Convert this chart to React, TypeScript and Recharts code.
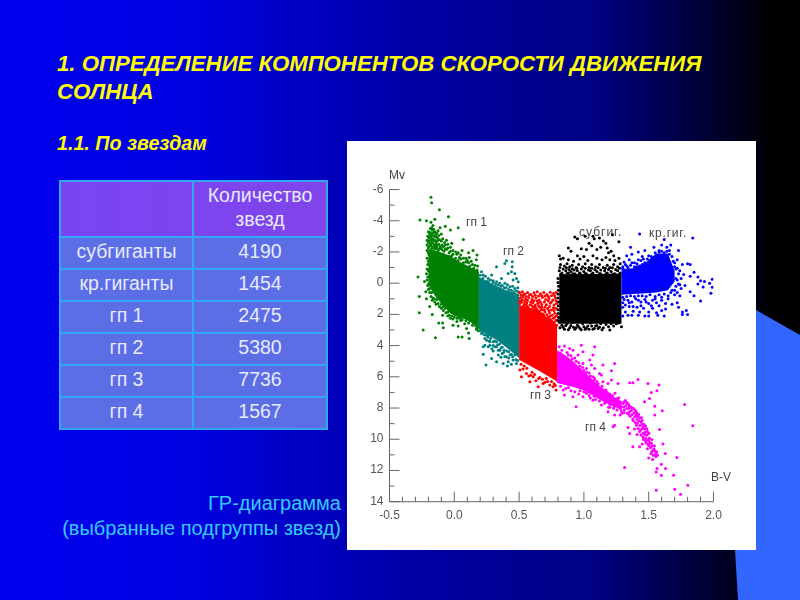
import { ComposedChart, Area, Scatter, XAxis, YAxis } from "recharts";

// B-V / Mv values
const bvTicks = [-0.5, -0.4, -0.3, -0.2, -0.1, 0, 0.1, 0.2, 0.3, 0.4, 0.5, 0.6, 0.7, 0.8, 0.9, 1, 1.1, 1.2, 1.3, 1.4, 1.5, 1.6, 1.7, 1.8, 1.9, 2];
const mvTicks = [-6, -5, -4, -3, -2, -1, 0, 1, 2, 3, 4, 5, 6, 7, 8, 9, 10, 11, 12, 13, 14];

const tableHead = "Количество звезд";
const groupNames = ["субгиганты", "кр.гиганты", "гп 1", "гп 2", "гп 3", "гп 4"];
const groupCounts = [4190, 1454, 2475, 5380, 7736, 1567];

// solid cores of each group: bv, upper edge, lower edge
const gp1Bv = [-0.2, -0.15, -0.11, -0.03, 0.02, 0.095, 0.19];
const gp1Top = [-1.9, -2.1, -2.0, -1.75, -1.45, -1.15, -0.75];
const gp1Bot = [0.1, 0.8, 1.2, 1.95, 2.15, 2.35, 2.85];
const gp2Bv = [0.19, 0.26, 0.33, 0.4, 0.5];
const gp2Top = [-0.4, -0.1, 0.2, 0.45, 0.7];
const gp2Bot = [2.95, 3.35, 3.65, 4.1, 4.8];
const gp3Bv = [0.5, 0.65, 0.793];
const gp3Top = [1.4, 1.7, 2.8];
const gp3Bot = [4.9, 5.6, 6.3];
const subBv = [0.81, 1.29];
const subTop = [-0.55, -0.6];
const subBot = [2.6, 2.6];
const gntBv = [1.29, 1.38, 1.48, 1.558, 1.648, 1.7];
const gntTop = [-0.9, -0.95, -1.35, -1.9, -1.9, -0.8];
const gntBot = [0.75, 0.7, 0.65, 0.6, 0.45, -0.1];
const gp4Bv = [0.793, 0.87, 0.916, 0.993, 1.11, 1.2, 1.29];
const gp4Top = [4.3, 4.7, 5.0, 5.6, 6.5, 7.1, 7.65];
const gp4Bot = [6.4, 6.55, 6.65, 6.85, 7.4, 7.8, 8.1];

// single stars outside the cores: [bv, mv]
const gp1Stars = [
  [-0.18, -5.5], [-0.175, -5.15], [-0.115, -4.7], [-0.265, -4.05], [-0.215, -4], [-0.15, -4.1], [-0.045, -4.25], [-0.18, -3.9], [-0.165, -3.7], [-0.11, -3.55], [-0.07, -3.65], [-0.03, -3.4], [0.03, -3.55], [0.07, -2.8],
  [-0.28, -0.4], [-0.27, 0.85], [-0.27, 1.9], [-0.24, 3], [-0.19, 1.5], [-0.17, 2], [-0.145, 3.5], [-0.12, 2.55], [-0.09, 2.55], [-0.085, 2.85], [0.03, 3.45], [0.06, 3.45], [0.095, 2.9], [0.115, 3.55], [0.11, 3.2], [0.145, -2.1], [0.11, -1.95], [0.175, -1.8], [0.115, -1.65], [0.17, -1.5],
  [-0.185, -3.5], [-0.17, -3.4], [-0.19, -3.2], [-0.175, -3.05], [-0.16, -3.25], [-0.145, -3.1], [-0.195, -2.9], [-0.18, -2.8], [-0.165, -2.85], [-0.15, -2.75], [-0.13, -2.9], [-0.2, -2.6], [-0.185, -2.5], [-0.17, -2.55], [-0.155, -2.45], [-0.14, -2.6], [-0.12, -2.5], [-0.1, -2.7], [-0.2, -2.25], [-0.19, -2.1], [-0.175, -2.2], [-0.16, -2.05], [-0.145, -2.2], [-0.125, -2.1], [-0.105, -2.25], [-0.085, -2.35], [-0.08, -2.05], [-0.06, -2.15], [-0.04, -1.95], [-0.195, -1.8], [-0.18, -1.65], [-0.165, -1.85], [-0.2, -1.4], [-0.19, -1.25], [-0.04, -1.7], [-0.02, -1.75], [0.01, -1.6], [0.03, -1.45], [0.05, -1.55], [0.07, -1.3], [0.09, -1.35], [0.12, -1.1], [0.15, -0.95], [0.175, -0.85],
  [-0.2, -0.8], [-0.205, -0.4], [-0.2, 0.05], [-0.19, 0.35], [-0.175, 0.6], [-0.165, 0.95], [-0.15, 1.2], [-0.135, 1.05], [-0.115, 1.5], [-0.1, 1.35], [-0.085, 1.75], [-0.07, 1.6], [-0.05, 2.1], [-0.03, 2.25], [-0.01, 2.3], [0.02, 2.45], [0.05, 2.4], [0.08, 2.6], [0.11, 2.55], [0.14, 2.7], [0.17, 2.95], [0.185, 3.05], [-0.22, 0.55], [-0.215, 1.0], [-0.09, 2.05], [-0.01, 2.7], [0.03, 2.75], [-0.23, -0.1],
  [-0.2, -3.3], [-0.185, -3.25], [-0.175, -3.55], [-0.16, -3.45], [-0.15, -3.3], [-0.135, -3.2], [-0.125, -3.35], [-0.205, -3.0], [-0.19, -3.05], [-0.18, -2.95], [-0.17, -3.15], [-0.155, -3.0], [-0.14, -2.95], [-0.12, -3.05], [-0.1, -3.15], [-0.21, -2.75], [-0.195, -2.7], [-0.175, -2.65], [-0.16, -2.7], [-0.145, -2.5], [-0.13, -2.72], [-0.115, -2.78], [-0.09, -2.85], [-0.075, -2.6], [-0.06, -2.75], [-0.21, -2.45], [-0.195, -2.35], [-0.18, -2.4], [-0.165, -2.3], [-0.15, -2.35], [-0.135, -2.4], [-0.11, -2.35], [-0.095, -2.45], [-0.07, -2.45], [-0.05, -2.5], [-0.03, -2.3], [-0.02, -2.55], [-0.21, -2.1], [-0.2, -1.95], [-0.185, -1.95], [-0.17, -2.05], [-0.155, -2.25], [-0.135, -2.25], [-0.115, -2.2], [-0.095, -2.15], [-0.07, -2.2], [-0.05, -2.25], [-0.03, -2.05], [-0.01, -2.1], [0.01, -2], [0.03, -1.95], [0.05, -1.8], [0.06, -2.1], [0.09, -1.6], [0.1, -1.45], [0.13, -1.4], [0.14, -1.2], [0.16, -1.15], [0.18, -1.1], [0.02, -1.85], [-0.01, -1.85], [0.04, -1.65], [0.07, -1.6], [0.11, -1.3],
  [-0.21, -1.6], [-0.205, -1.2], [-0.21, -0.9], [-0.215, -0.6], [-0.21, -0.2], [-0.205, 0.15], [-0.2, 0.4], [-0.19, 0.6], [-0.18, 0.85], [-0.17, 1.1], [-0.155, 1.0], [-0.14, 1.35], [-0.125, 1.3], [-0.1, 1.6], [-0.085, 1.5], [-0.065, 1.9], [-0.05, 1.85], [-0.04, 2.05], [-0.02, 2.1], [0, 2.15], [0.02, 2.25], [0.04, 2.25], [0.06, 2.35], [0.09, 2.4], [0.12, 2.4], [0.15, 2.55], [0.165, 2.75], [0.18, 2.85],
];
const gp2Stars = [
  [0.21, -0.73], [0.223, -0.52], [0.262, -0.3], [0.288, -0.52], [0.326, -1.05], [0.39, -1.26], [0.403, -1.44], [0.447, -1.37], [0.447, -1.05], [0.441, -0.73], [0.416, -0.62], [0.467, -0.62], [0.48, -0.3], [0.454, -0.2], [0.493, -0.09], [0.364, -0.3], [0.326, -0.09], [0.39, 0], [0.339, 0.12], [0.429, 0.23], [0.467, 0.34], [0.25, -0.09], [0.3, -0.05], [0.36, 0.2], [0.4, 0.3], [0.44, 0.45], [0.48, 0.5],
  [0.223, 3.12], [0.249, 3.33], [0.21, 3.22], [0.236, 3.54], [0.275, 3.76], [0.326, 3.76], [0.313, 4.08], [0.262, 4.08], [0.223, 4.08], [0.223, 4.55], [0.244, 5.25], [0.288, 4.82], [0.326, 5.04], [0.377, 5.14], [0.416, 5.04], [0.352, 4.29], [0.403, 4.71], [0.454, 4.93], [0.467, 4.61], [0.43, 4.6], [0.326, 4.07], [0.275, 3.97], [0.236, 3.97], [0.3, 4.35], [0.34, 4.6], [0.38, 4.45], [0.41, 5.3], [0.44, 5.2], [0.36, 4.75], [0.29, 4.2], [0.25, 3.65], [0.3, 3.75], [0.37, 4.1], [0.48, 5.15],
  [0.2, -0.5], [0.22, -0.3], [0.24, -0.45], [0.26, -0.1], [0.28, -0.2], [0.3, -0.15], [0.32, 0.05], [0.35, 0.0], [0.37, 0.15], [0.385, 0.3], [0.41, 0.1], [0.42, 0.4], [0.45, 0.2], [0.46, 0.55], [0.49, 0.3], [0.495, 0.55], [0.2, 3.05], [0.215, 3.0], [0.23, 3.3], [0.26, 3.45], [0.28, 3.55], [0.31, 3.7], [0.335, 3.95], [0.35, 3.9], [0.36, 4.15], [0.385, 4.3], [0.405, 4.35], [0.42, 4.4], [0.44, 4.55], [0.45, 4.72], [0.475, 4.9], [0.49, 4.95], [0.3, 4.0], [0.27, 3.7], [0.34, 4.3], [0.37, 4.5], [0.39, 4.7], [0.42, 4.8],
];
const gp3Stars = [
  [0.506, 5.57], [0.518, 5.99], [0.557, 5.78], [0.583, 6.32], [0.609, 5.99], [0.647, 6.64], [0.685, 6.42], [0.737, 6.53], [0.762, 6.64], [0.785, 6.85], [0.71, 6.1], [0.66, 6.05], [0.6, 5.7], [0.54, 5.3], [0.575, 5.95], [0.63, 6.25], [0.75, 6.3], [0.77, 6.45], [0.515, 5.2], [0.53, 5.5], [0.56, 5.45], [0.59, 5.9], [0.62, 5.85], [0.65, 6.1], [0.68, 6.15], [0.7, 6.35], [0.72, 6.3], [0.78, 6.55],
  [0.505, 0.62], [0.525, 0.55], [0.545, 0.7], [0.565, 0.6], [0.59, 0.72], [0.615, 0.62], [0.64, 0.55], [0.665, 0.68], [0.69, 0.6], [0.715, 0.72], [0.74, 0.58], [0.765, 0.66], [0.785, 0.6],
  [0.51, 0.95], [0.53, 0.88], [0.55, 1.02], [0.575, 0.92], [0.6, 1.05], [0.63, 0.95], [0.655, 1.08], [0.68, 0.92], [0.705, 1.05], [0.73, 0.98], [0.76, 1.08], [0.78, 0.95],
  [0.505, 1.3], [0.52, 1.22], [0.54, 1.35], [0.56, 1.25], [0.585, 1.38], [0.605, 1.26], [0.625, 1.4], [0.645, 1.28], [0.675, 1.36], [0.71, 1.38], [0.74, 1.28], [0.77, 1.4], [0.788, 1.3],
  [0.52, 1.55], [0.545, 1.62], [0.565, 1.5], [0.59, 1.68], [0.61, 1.55], [0.635, 1.65], [0.66, 1.55], [0.685, 1.7], [0.72, 1.62], [0.75, 1.72], [0.785, 1.6],
  [0.66, 1.82], [0.68, 1.98], [0.7, 1.85], [0.715, 2.02], [0.735, 1.9], [0.755, 2.05], [0.775, 1.92], [0.79, 2.08],
  [0.69, 2.2], [0.71, 2.3], [0.725, 2.18], [0.745, 2.35], [0.765, 2.25], [0.785, 2.38], [0.73, 2.55], [0.75, 2.62], [0.77, 2.5], [0.79, 2.7], [0.705, 2.55],
  [0.515, 0.78], [0.535, 0.72], [0.555, 0.85], [0.58, 0.75], [0.605, 0.85], [0.625, 0.78], [0.65, 0.82], [0.675, 0.8], [0.7, 0.82], [0.725, 0.85], [0.75, 0.8], [0.775, 0.8],
  [0.505, 1.12], [0.525, 1.08], [0.545, 1.18], [0.565, 1.1], [0.59, 1.2], [0.615, 1.12], [0.64, 1.15], [0.665, 1.22], [0.695, 1.2], [0.725, 1.15], [0.75, 1.2], [0.785, 1.12],
  [0.535, 1.48], [0.555, 1.4], [0.575, 1.62], [0.6, 1.45], [0.625, 1.55], [0.65, 1.45], [0.675, 1.55], [0.7, 1.52], [0.735, 1.5], [0.765, 1.58],
  [0.67, 1.68], [0.695, 1.72], [0.73, 1.75], [0.77, 1.75], [0.69, 2.05], [0.74, 2.1], [0.78, 2.15], [0.7, 2.42], [0.755, 2.45], [0.775, 2.65], [0.735, 2.3],
];
const subStars = [
  [1.01, -3.0], [0.93, -2.95], [0.95, -2.85], [1.07, -3.0], [1.08, -2.85], [1.12, -2.9], [1.15, -2.7], [1.17, -2.55], [1.27, -2.65], [1.22, -3.1], [0.88, -2.25], [0.9, -2.05], [0.95, -1.75], [0.98, -2.2], [1.02, -2.15], [1.04, -2.55], [1.06, -2.4], [1.1, -2.15], [1.13, -2.3], [1.18, -2.25], [1.19, -1.95], [1.21, -2.05], [1.23, -1.75],
  [0.81, -1.75], [0.82, -1.55], [0.84, -1.6], [0.88, -1.5], [0.92, -1.4], [0.97, -1.55], [1, -1.7], [1.03, -1.45], [1.07, -1.75], [1.1, -1.6], [1.14, -1.5], [1.17, -1.65], [1.2, -1.5], [1.24, -1.45], [1.27, -1.6],
  [0.82, -1.2], [0.85, -1.1], [0.87, -1.25], [0.89, -1.05], [0.91, -1.15], [0.94, -1.0], [0.96, -1.2], [0.99, -1.05], [1.01, -1.25], [1.04, -1.0], [1.06, -1.2], [1.09, -1.05], [1.12, -1.2], [1.15, -1.0], [1.18, -1.15], [1.2, -1.0], [1.23, -1.2], [1.26, -1.05], [1.28, -1.25],
  [0.81, -0.8], [0.83, -0.65], [0.86, -0.8], [0.88, -0.65], [0.9, -0.75], [0.93, -0.6], [0.95, -0.8], [0.97, -0.65], [1.0, -0.75], [1.02, -0.6], [1.05, -0.8], [1.07, -0.65], [1.1, -0.75], [1.13, -0.6], [1.16, -0.8], [1.18, -0.65], [1.21, -0.75], [1.24, -0.6], [1.26, -0.8], [1.28, -0.65],
  [0.815, -1.0], [0.84, -0.9], [0.865, -0.98], [0.885, -0.88], [0.91, -0.92], [0.925, -0.85], [0.945, -0.95], [0.98, -0.9], [1.01, -0.95], [1.035, -0.85], [1.06, -0.95], [1.085, -0.88], [1.11, -0.98], [1.13, -0.85], [1.165, -0.95], [1.19, -0.88], [1.22, -0.98], [1.245, -0.88], [1.275, -0.95],
  [0.82, -0.55], [0.845, -0.5], [0.87, -0.62], [0.895, -0.52], [0.915, -0.6], [0.94, -0.5], [0.965, -0.62], [0.985, -0.52], [1.01, -0.6], [1.04, -0.5], [1.06, -0.58], [1.09, -0.5], [1.12, -0.62], [1.145, -0.5], [1.17, -0.6], [1.2, -0.52], [1.225, -0.58], [1.25, -0.5], [1.275, -0.58],
  [0.8, -0.3], [0.805, 0.2], [0.8, 0.7], [0.805, 1.2], [0.8, 1.7], [0.805, 2.2], [0.8, -0.05], [0.803, 0.45], [0.8, 0.95], [0.803, 1.45], [0.8, 1.95], [0.8, 2.4],
  [0.81, 2.5], [0.83, 2.7], [0.85, 2.95], [0.87, 2.6], [0.89, 2.85], [0.91, 2.5], [0.93, 2.95], [0.95, 2.7], [0.97, 2.9], [0.99, 2.6], [1.01, 2.95], [1.03, 2.75], [1.05, 2.55], [1.07, 2.95], [1.09, 2.75], [1.11, 2.9], [1.13, 2.6], [1.15, 2.85], [1.17, 2.65], [1.19, 2.8], [1.21, 2.6], [1.2, 3.0], [1.23, 2.75], [1.25, 2.6], [1.27, 2.55], [1.29, 2.8],
  [0.815, 2.85], [0.84, 2.82], [0.86, 2.72], [0.88, 2.98], [0.9, 2.72], [0.92, 2.82], [0.94, 2.85], [0.96, 2.8], [0.98, 2.98], [1.0, 2.8], [1.02, 2.88], [1.04, 2.95], [1.06, 2.75], [1.08, 2.9], [1.1, 2.72], [1.12, 2.82], [1.14, 2.98],
];
const gntStars = [
  [1.43, -3.15], [1.54, -2.3], [1.62, -2.8], [1.64, -2.3], [1.66, -1.85], [1.84, -2.9], [1.36, -2.3], [1.37, -1.85], [1.42, -2.0], [1.47, -2.1], [1.5, -1.75], [1.55, -1.95], [1.58, -2.1], [1.6, -2.45], [1.67, -2.45], [1.73, -2.1], [1.33, -1.75], [1.31, -1.35], [1.35, -1.5], [1.39, -1.3], [1.42, -1.5], [1.45, -1.7], [1.3, -1.05], [1.33, -1.1], [1.36, -1.15], [1.41, -1.05], [1.45, -1.2], [1.46, -1.55],
  [1.7, -1.3], [1.72, -1.5], [1.76, -1.2], [1.8, -1.25], [1.82, -1.2], [1.71, -0.9], [1.74, -0.8], [1.77, -0.55], [1.82, -0.45], [1.85, -0.7], [1.88, -0.4], [1.9, -0.15], [1.93, -0.1], [1.97, 0], [1.88, 0.05], [1.78, 0.15], [1.73, 0.05], [1.71, -0.3], [1.75, 0.35], [1.82, 0.55], [1.85, 0.8], [1.92, 0.25], [1.99, -0.25], [1.99, 0.27], [1.98, 0.65], [1.9, 1.15],
  [1.3, 0.9], [1.33, 0.85], [1.31, 1.05], [1.36, 0.8], [1.39, 0.85], [1.42, 0.8], [1.45, 0.8], [1.48, 0.85], [1.51, 0.75], [1.55, 0.85], [1.58, 0.75], [1.62, 0.7], [1.65, 0.8], [1.68, 0.45], [1.7, 0.75], [1.3, 1.25], [1.34, 1.1], [1.37, 1.2], [1.4, 1.0], [1.44, 1.2], [1.47, 1.05], [1.5, 1.3], [1.53, 1.1], [1.56, 1.25], [1.6, 1.1], [1.63, 1.3], [1.68, 1.35], [1.72, 1.25], [1.3, 1.55], [1.32, 1.85], [1.35, 1.5], [1.38, 1.8], [1.41, 1.55], [1.43, 1.85], [1.46, 1.6], [1.5, 1.85], [1.53, 1.6], [1.56, 1.9], [1.6, 1.75], [1.63, 1.65], [1.73, 1.55], [1.76, 1.85], [1.79, 1.75], [1.76, 2.0], [1.8, 2.0], [1.3, 2.1], [1.34, 2.05], [1.37, 2.05], [1.42, 2.05], [1.47, 2.1], [1.5, 2.1], [1.57, 2.05], [1.62, 2.1],
  [1.3, -0.95], [1.32, -1.2], [1.34, -1.0], [1.37, -1.3], [1.39, -1.05], [1.41, -1.25], [1.43, -1.1], [1.44, -1.45], [1.47, -1.3], [1.49, -1.55], [1.51, -1.35], [1.52, -1.7], [1.54, -1.6], [1.56, -1.75], [1.58, -2.0], [1.6, -2.05], [1.62, -1.95], [1.64, -2.05], [1.66, -2.1], [1.68, -1.7], [1.69, -1.4], [1.7, -1.05], [1.72, -0.95], [1.73, -0.6], [1.75, -0.3], [1.72, -0.2], [1.74, 0.1], [1.71, 0.2], [1.7, 0.45], [1.72, 0.6], [1.74, 0.8], [1.67, 0.6], [1.65, 1.0], [1.6, 0.9], [1.55, 1.0], [1.48, 1.2], [1.42, 1.1], [1.35, 1.25], [1.32, 1.4], [1.38, 1.5], [1.44, 1.45], [1.52, 1.45], [1.58, 1.45],
];
const gp4Stars = [
  [0.81, 4.07], [0.85, 4.03], [0.89, 4.18], [0.916, 4.29], [0.98, 3.97], [0.993, 4.4], [0.955, 4.61], [1.083, 4.07], [1.07, 4.61], [1.045, 4.93], [1.058, 5.25], [0.993, 5.14], [1.02, 5.46], [1.083, 5.46], [1.12, 5.78], [1.147, 5.25], [1.237, 5.14], [1.212, 5.61], [1.135, 5.89], [1.083, 6.1], [1.147, 6.32], [1.186, 6.42], [1.212, 6.21], [1.263, 6.42], [1.353, 6.38], [1.378, 6.38], [1.417, 6.17], [1.494, 6.42], [1.579, 6.53], [1.564, 6.9], [1.52, 7.0], [1.507, 7.39], [1.468, 7.6], [1.546, 7.88], [1.605, 8.18], [1.546, 8.45], [1.584, 9.37], [1.61, 10.31], [1.628, 10.91], [1.597, 11.6], [1.63, 11.87], [1.717, 11.17], [1.777, 7.77], [1.84, 9.14], [1.314, 11.81], [1.558, 12.09], [1.564, 11.87], [1.597, 12.3], [1.558, 13.26], [1.7, 13.2], [1.746, 13.52], [1.802, 12.94], [1.692, 12.3],
  [0.94, 7.92], [0.916, 7.28], [0.85, 7.17], [0.993, 7.28], [1.07, 7.5], [1.135, 7.8], [1.186, 8.24], [1.237, 8.45], [0.82, 6.6], [0.84, 6.85], [0.88, 6.7], [0.93, 6.95], [0.97, 6.9], [1.02, 7.05], [1.05, 6.9], [1.09, 7.45], [0.82, 4.5], [0.85, 4.7], [0.88, 4.6], [0.91, 4.85], [0.94, 5.0], [0.97, 5.3], [1.0, 5.6], [1.04, 5.75], [1.07, 6.0], [1.1, 6.3], [1.14, 6.6], [1.17, 6.85], [1.2, 7.1], [1.24, 7.05],
  [0.83, 4.3], [0.87, 4.45], [0.9, 4.65], [0.93, 4.8], [0.96, 5.1], [0.99, 5.4], [1.02, 5.7], [1.05, 5.95], [1.08, 6.2], [1.11, 6.45], [1.15, 6.85], [1.18, 7.0], [1.22, 7.2], [1.27, 7.35], [1.0, 6.95], [1.04, 7.2], [1.08, 7.25], [1.12, 7.55], [1.16, 7.7], [1.2, 7.95], [1.05, 7.35], [0.96, 7.1], [0.9, 6.9], [0.86, 6.75],
  [1.2, 7.75], [1.19, 7.95], [1.22, 7.3], [1.225, 7.55], [1.215, 7.72], [1.23, 8.02], [1.24, 7.42], [1.245, 7.63], [1.25, 7.86], [1.255, 8.12], [1.265, 7.52], [1.27, 7.77], [1.275, 7.98], [1.283, 7.61], [1.288, 7.92], [1.29, 8.22], [1.295, 8.34], [1.302, 7.71], [1.307, 7.94], [1.312, 8.13], [1.32, 7.52], [1.325, 7.83], [1.33, 8.03], [1.334, 8.31], [1.342, 7.72], [1.347, 8.01], [1.352, 8.23], [1.357, 8.52], [1.362, 7.93], [1.367, 8.15], [1.372, 8.42], [1.377, 8.71], [1.384, 8.03], [1.388, 8.31], [1.391, 8.56], [1.396, 8.92], [1.402, 8.22], [1.404, 8.45], [1.409, 8.72], [1.414, 8.96], [1.418, 9.31], [1.423, 8.42], [1.426, 8.82], [1.432, 9.12], [1.436, 9.41], [1.44, 9.72], [1.445, 8.62], [1.449, 9.02], [1.452, 9.33], [1.457, 9.62], [1.46, 10.02], [1.465, 9.05], [1.47, 9.32], [1.472, 9.53], [1.476, 9.92], [1.48, 10.22], [1.485, 9.33], [1.488, 9.72], [1.492, 10.03], [1.496, 10.32], [1.502, 9.62], [1.505, 9.93], [1.51, 10.22], [1.514, 10.52], [1.518, 10.92], [1.524, 10.02], [1.528, 10.42], [1.532, 10.72], [1.536, 11.02], [1.544, 10.42], [1.548, 10.73], [1.553, 10.93], [1.562, 10.82], [1.568, 11.02],
  [1.34, 9.25], [1.353, 9.63], [1.378, 10.48], [1.43, 10.48], [1.237, 9.1], [1.225, 9.2], [1.39, 9.35], [1.41, 9.7], [1.45, 10.3], [1.49, 10.6], [1.5, 11.2], [1.53, 11.3],
  [1.21, 7.5], [1.235, 7.9], [1.26, 7.35], [1.285, 8.05], [1.31, 7.6], [1.33, 7.65], [1.35, 7.85], [1.37, 8.0], [1.395, 8.15], [1.415, 8.55], [1.43, 8.6], [1.44, 8.9], [1.455, 9.2], [1.47, 9.7], [1.49, 9.5], [1.5, 10.1], [1.52, 10.25], [1.54, 10.6], [1.555, 11.1], [1.345, 8.4], [1.38, 8.8], [1.405, 9.1], [1.43, 9.5], [1.455, 9.85], [1.475, 10.1], [1.5, 10.4], [1.525, 10.8], [1.41, 8.35], [1.45, 8.8], [1.475, 9.15], [1.31, 8.3], [1.28, 8.45],
];

const toBand = (bv: number[], top: number[], bot: number[]) => bv.map((x, i) => ({ x, band: [top[i], bot[i]] }));
const toStars = (list: number[][]) => list.map(([x, y]) => ({ x, y }));

const dot = (color: string) => (p: any) => <circle cx={p.cx} cy={p.cy} r={1.5} fill={color} />;

const isMajorBv = (v: number) => Math.abs(v * 2 - Math.round(v * 2)) < 1e-6;

function BvTick({ x, y, payload }: any) {
  const major = isMajorBv(payload.value);
  return (
    <g>
      <line x1={x} x2={x} y1={y} y2={y - (major ? 10 : 5)} stroke="#666" />
      {major && (
        <text x={x} y={y + 17} textAnchor="middle" fontSize={12} fill="#555" fontFamily="Liberation Sans">
          {payload.value.toFixed(1)}
        </text>
      )}
    </g>
  );
}

function MvTick({ x, y, payload }: any) {
  const major = payload.value % 2 === 0;
  return (
    <g>
      <line x1={x} x2={x + (major ? 10 : 5)} y1={y} y2={y} stroke="#666" />
      {major && (
        <text x={x - 6} y={y + 3} textAnchor="end" fontSize={12} fill="#555" fontFamily="Liberation Sans">
          {payload.value}
        </text>
      )}
    </g>
  );
}

const noteStyle = { fontSize: 12, fill: "#444", fontFamily: "Liberation Sans" };

function HrChart() {
  return (
    <ComposedChart width={409} height={409} margin={{ top: 48.5, right: 42.5, bottom: 18, left: 0 }}>
      <XAxis dataKey="x" type="number" domain={[-0.5, 2]} ticks={bvTicks} interval={0} height={30.3} tickSize={0} tickMargin={0} tick={BvTick} axisLine={{ stroke: "#666" }} tickLine={false} allowDataOverflow />
      <YAxis dataKey="y" type="number" domain={[-6, 14]} ticks={mvTicks} interval={0} width={42.5} reversed tickSize={0} tickMargin={0} tick={MvTick} axisLine={{ stroke: "#666" }} tickLine={false} allowDataOverflow />
      <Area data={toBand(gp1Bv, gp1Top, gp1Bot)} dataKey="band" type="linear" stroke="none" fill="#008000" fillOpacity={1} dot={false} activeDot={false} isAnimationActive={false} />
      <Scatter data={toStars(gp1Stars)} shape={dot("#008000")} isAnimationActive={false} />
      <Area data={toBand(gp2Bv, gp2Top, gp2Bot)} dataKey="band" type="linear" stroke="none" fill="#008080" fillOpacity={1} dot={false} activeDot={false} isAnimationActive={false} />
      <Scatter data={toStars(gp2Stars)} shape={dot("#008080")} isAnimationActive={false} />
      <Area data={toBand(gp4Bv, gp4Top, gp4Bot)} dataKey="band" type="linear" stroke="none" fill="#ff00ff" fillOpacity={1} dot={false} activeDot={false} isAnimationActive={false} />
      <Scatter data={toStars(gp4Stars)} shape={dot("#ff00ff")} isAnimationActive={false} />
      <Area data={toBand(gp3Bv, gp3Top, gp3Bot)} dataKey="band" type="linear" stroke="none" fill="#ff0000" fillOpacity={1} dot={false} activeDot={false} isAnimationActive={false} />
      <Scatter data={toStars(gp3Stars)} shape={dot("#ff0000")} isAnimationActive={false} />
      <Area data={toBand(subBv, subTop, subBot)} dataKey="band" type="linear" stroke="none" fill="#000000" fillOpacity={1} dot={false} activeDot={false} isAnimationActive={false} />
      <Scatter data={toStars(subStars)} shape={dot("#000000")} isAnimationActive={false} />
      <Area data={toBand(gntBv, gntTop, gntBot)} dataKey="band" type="linear" stroke="none" fill="#0000ff" fillOpacity={1} dot={false} activeDot={false} isAnimationActive={false} />
      <Scatter data={toStars(gntStars)} shape={dot("#0000ff")} isAnimationActive={false} />
      <text x={42} y={38} {...noteStyle}>Mv</text>
      <text x={119} y={85} {...noteStyle}>гп 1</text>
      <text x={156} y={114} {...noteStyle}>гп 2</text>
      <text x={183} y={258} {...noteStyle}>гп 3</text>
      <text x={238} y={290} {...noteStyle}>гп 4</text>
      <text x={232} y={95} {...noteStyle} letterSpacing={1}>субгиг.</text>
      <text x={302} y={96} {...noteStyle} letterSpacing={0.8}>кр.гиг.</text>
      <text x={364} y={340} {...noteStyle}>B-V</text>
    </ComposedChart>
  );
}

const cellBorder = "2px solid #33a6f5";

function StarTable() {
  const cell = { border: cellBorder, padding: "0 0 4px", textAlign: "center" as const, color: "#e8eaff", fontSize: 19.5, height: 26, boxSizing: "content-box" as const };
  return (
    <table style={{ position: "absolute", left: 59, top: 180, width: 269, height: 249, borderCollapse: "collapse", tableLayout: "fixed", fontFamily: "Liberation Sans" }}>
      <colgroup>
        <col style={{ width: 133 }} />
        <col />
      </colgroup>
      <tbody>
        <tr style={{ background: "linear-gradient(90deg, #7a44f5, #8045ea)" }}>
          <td style={{ ...cell, height: 50 }} />
          <td style={{ ...cell, height: 50, lineHeight: "24px" }}>
            {tableHead.split(" ")[0]}
            <br />
            {tableHead.split(" ")[1]}
          </td>
        </tr>
        {groupNames.map((name, i) => (
          <tr key={name} style={{ background: "#5c6ee6" }}>
            <td style={cell}>{name}</td>
            <td style={cell}>{groupCounts[i]}</td>
          </tr>
        ))}
      </tbody>
    </table>
  );
}

export default function App() {
  return (
    <div style={{ position: "absolute", left: 0, top: 0, width: 800, height: 600, overflow: "hidden", background: "linear-gradient(90deg, #0000f0 0%, #0000e0 25%, #0000a8 50%, #000080 75%, #000000 97%)", fontFamily: "Liberation Sans" }}>
      <svg width={800} height={600} style={{ position: "absolute", left: 0, top: 0 }}>
        <polygon points="756,310 800,335 800,600 738,600 735,550" fill="#3366ff" />
      </svg>
      <div style={{ position: "absolute", left: 57, top: 50, color: "#ffff00", fontSize: 22.2, fontWeight: "bold", fontStyle: "italic", lineHeight: "28px", whiteSpace: "nowrap" }}>
        1. ОПРЕДЕЛЕНИЕ КОМПОНЕНТОВ СКОРОСТИ ДВИЖЕНИЯ
        <br />
        СОЛНЦА
      </div>
      <div style={{ position: "absolute", left: 57, top: 132, color: "#ffff00", fontSize: 19.7, fontWeight: "bold", fontStyle: "italic", whiteSpace: "nowrap" }}>
        1.1. По звездам
      </div>
      <StarTable />
      <div style={{ position: "absolute", right: 459, top: 491, color: "#33ccff", fontSize: 20, lineHeight: "24.5px", textAlign: "right", whiteSpace: "nowrap" }}>
        ГР-диаграмма
        <br />
        (выбранные подгруппы звезд)
      </div>
      <div style={{ position: "absolute", left: 347, top: 141, width: 409, height: 409, background: "#fff" }}>
        <div style={{ filter: "blur(0.4px)" }}>
          <HrChart />
        </div>
      </div>
    </div>
  );
}
